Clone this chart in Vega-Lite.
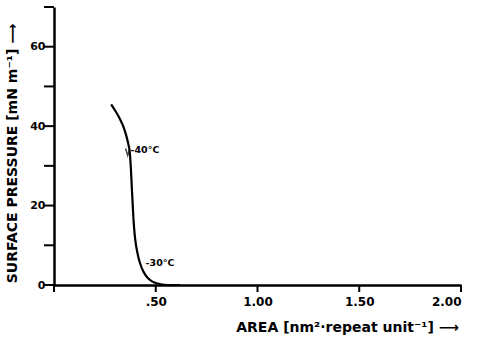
{
  "$schema": "https://vega.github.io/schema/vega-lite/v6.json",
  "width": 407,
  "height": 278,
  "autosize": {"type": "none"},
  "padding": {"left": 54, "top": 7, "right": 17, "bottom": 53},
  "background": "white",
  "config": {"view": {"stroke": null}, "font": "DejaVu Sans"},
  "datasets": {
    "curve": [
      {"area": 0.281, "pressure": 45.5},
      {"area": 0.302, "pressure": 43.8},
      {"area": 0.322, "pressure": 42.0},
      {"area": 0.340, "pressure": 40.0},
      {"area": 0.353, "pressure": 38.0},
      {"area": 0.363, "pressure": 36.0},
      {"area": 0.371, "pressure": 34.0},
      {"area": 0.377, "pressure": 30.0},
      {"area": 0.382, "pressure": 25.0},
      {"area": 0.387, "pressure": 20.0},
      {"area": 0.392, "pressure": 15.5},
      {"area": 0.399, "pressure": 11.5},
      {"area": 0.409, "pressure": 8.3},
      {"area": 0.422, "pressure": 5.6},
      {"area": 0.440, "pressure": 3.3},
      {"area": 0.462, "pressure": 1.7},
      {"area": 0.49, "pressure": 0.7},
      {"area": 0.525, "pressure": 0.2},
      {"area": 0.56, "pressure": 0.0},
      {"area": 0.62, "pressure": 0.0}
    ],
    "labels": [
      {"area": 0.376, "pressure": 34.1, "label": "-40°C"},
      {"area": 0.45, "pressure": 5.6, "label": "-30°C"}
    ],
    "arrow": [
      {"area": 0.362, "pressure": 33.5}
    ],
    "yticks": [
      {"pressure": 0},
      {"pressure": 10},
      {"pressure": 20},
      {"pressure": 30},
      {"pressure": 40},
      {"pressure": 50},
      {"pressure": 60},
      {"pressure": 70}
    ],
    "xticks": [
      {"area": 0},
      {"area": 0.5},
      {"area": 1},
      {"area": 1.5},
      {"area": 2}
    ]
  },
  "layer": [
    {
      "data": {"name": "curve"},
      "mark": {"type": "line", "color": "black", "strokeWidth": 2.2, "interpolate": "catmull-rom"},
      "encoding": {
        "x": {
          "field": "area", "type": "quantitative",
          "scale": {"domain": [0, 2], "nice": false},
          "axis": {
            "values": [0, 0.5, 1, 1.5, 2],
            "labelExpr": "datum.value == 0 ? '' : (datum.value == 0.5 ? '.50' : format(datum.value, '.2f'))",
            "grid": false, "ticks": false,
            "domainColor": "black", "domainWidth": 2.5,
            "labelColor": "black", "labelFont": "DejaVu Sans", "labelFontWeight": "bold", "labelFontSize": 12, "labelPadding": 11,
            "title": "AREA [nm²·repeat unit⁻¹] ⟶",
            "titleFont": "DejaVu Sans", "titleFontWeight": "bold", "titleFontSize": 14, "titleColor": "black",
            "titleX": 293, "titleY": 42, "titleAlign": "center", "titleBaseline": "middle"
          }
        },
        "y": {
          "field": "pressure", "type": "quantitative",
          "scale": {"domain": [0, 70], "nice": false},
          "axis": {
            "values": [0, 20, 40, 60],
            "grid": false, "ticks": false,
            "domainColor": "black", "domainWidth": 2.5,
            "labelColor": "black", "labelFont": "DejaVu Sans", "labelFontWeight": "bold", "labelFontSize": 11, "labelPadding": 9,
            "title": "SURFACE PRESSURE [mN m⁻¹] ⟶",
            "titleFont": "DejaVu Sans", "titleFontWeight": "bold", "titleFontSize": 14, "titleColor": "black",
            "titleAngle": -90, "titleX": -42, "titleY": 146, "titleAlign": "center", "titleBaseline": "middle"
          }
        }
      }
    },
    {
      "data": {"name": "yticks"},
      "mark": {"type": "tick", "orient": "horizontal", "size": 10, "thickness": 2, "xOffset": -5, "color": "black", "opacity": 1},
      "encoding": {
        "x": {"datum": 0, "type": "quantitative"},
        "y": {"field": "pressure", "type": "quantitative"}
      }
    },
    {
      "data": {"name": "xticks"},
      "mark": {"type": "tick", "orient": "vertical", "size": 7, "thickness": 2, "yOffset": 3.5, "color": "black", "opacity": 1},
      "encoding": {
        "x": {"field": "area", "type": "quantitative"},
        "y": {"datum": 0, "type": "quantitative"}
      }
    },
    {
      "data": {"name": "arrow"},
      "mark": {"type": "point", "shape": "M-0.6,-1L0,1L0.6,-1", "filled": false, "stroke": "black", "strokeWidth": 1.5, "size": 50},
      "encoding": {
        "x": {"field": "area", "type": "quantitative"},
        "y": {"field": "pressure", "type": "quantitative"}
      }
    },
    {
      "data": {"name": "labels"},
      "mark": {"type": "text", "align": "left", "baseline": "middle", "font": "DejaVu Sans", "fontWeight": "bold", "fontSize": 9.5, "color": "black"},
      "encoding": {
        "x": {"field": "area", "type": "quantitative"},
        "y": {"field": "pressure", "type": "quantitative"},
        "text": {"field": "label"}
      }
    }
  ]
}
